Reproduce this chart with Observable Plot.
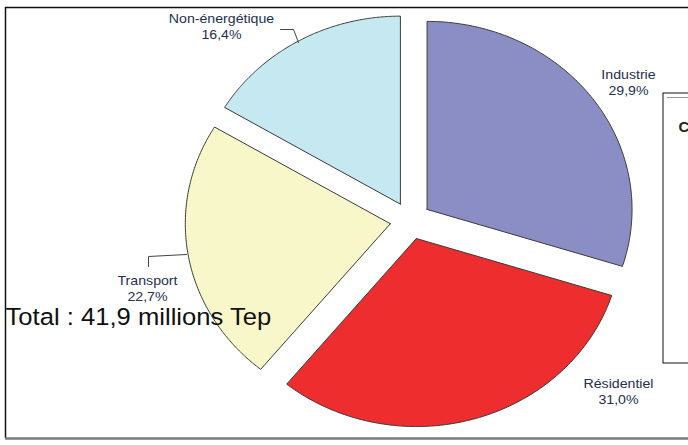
<!DOCTYPE html>
<html><head><meta charset="utf-8">
<script src="https://cdn.jsdelivr.net/npm/d3@7"></script>
<script src="https://cdn.jsdelivr.net/npm/@observablehq/plot@0.6"></script>
<style>body{margin:0;background:#fff} svg{display:block}</style>
</head><body><div id="chart"></div>
<script>
// ---- data ----
const categories = ["Industrie", "Résidentiel", "Transport", "Non-énergétique"];
const shares = [29.9, 31.0, 22.7, 16.4];
const shareLabels = ["29,9%", "31,0%", "22,7%", "16,4%"];
const colors = ["#8b8ec5", "#ee2e2e", "#f8f7ca", "#c5e8f1"];
const totalText = "Total : 41,9 millions Tep";
const boxLetter = "C";

// ---- layout ----
const W = 688, H = 445, CX = 410, CY = 220, RX = 205, RY = 188, STRETCH = 1.09;
const px = p => (p - CX) / RX, py = p => (CY - p) / RY;
const explode = 0.1;
const total = d3.sum(shares);
let acc = 0;
const slices = categories.map((c, i) => {
  const a0 = acc / total * 2 * Math.PI; acc += shares[i];
  const a1 = acc / total * 2 * Math.PI;
  return {c, a0, a1, i};
});
const pts = [];
for (const s of slices) {
  const m = (s.a0 + s.a1) / 2, ox = explode * Math.sin(m), oy = explode * Math.cos(m);
  pts.push({c: s.c, x: ox, y: oy});
  const n = 160;
  for (let k = 0; k <= n; k++) {
    const a = s.a0 + (s.a1 - s.a0) * k / n;
    pts.push({c: s.c, x: ox + Math.sin(a), y: oy + Math.cos(a)});
  }
  pts.push({c: s.c, x: ox, y: oy});
}
// label centers (pixels)
const labelPos = {"Industrie": [628, 81], "Résidentiel": [618, 390], "Transport": [147, 287], "Non-énergétique": [221, 25]};
const labels = categories.map((c, i) => ({c, t: c + "\n" + shareLabels[i], x: px(labelPos[c][0]), y: py(labelPos[c][1])}));
const leaders = [
  ...[[280, 29], [293, 29], [298, 42]].map(p => ({g: "n", x: px(p[0]), y: py(p[1])})),
  ...[[148, 266], [148, 256], [186, 254]].map(p => ({g: "t", x: px(p[0]), y: py(p[1])}))
];

const svg = Plot.plot({
  width: W, height: H, margin: 0,
  x: {domain: [px(0), px(W)], range: [0, W], axis: null},
  y: {domain: [py(H), py(0)], range: [H, 0], axis: null},
  color: {domain: categories, range: colors},
  style: {background: "#fff", fontFamily: "'Liberation Sans', Arial, sans-serif"},
  marks: [
    // frame lines
    Plot.ruleY([py(7)], {x1: px(5), x2: px(W), stroke: "#111", strokeWidth: 1.5}),
    Plot.ruleX([px(5)], {y1: py(7), y2: py(438), stroke: "#111", strokeWidth: 1.5}),
    Plot.ruleY([py(438)], {x1: px(5), x2: px(W), stroke: "#7a7a7a", strokeWidth: 2.5}),
    // partial box on right
    Plot.rect([0], {x1: px(663), x2: px(W + 5), y1: py(93), y2: py(363), fill: "#fff", stroke: "#111", strokeWidth: 1}),
    Plot.ruleY([py(97)], {x1: px(667), x2: px(W), stroke: "#999", strokeWidth: 1}),
    Plot.text([boxLetter], {x: px(678), y: py(127), text: d => d, textAnchor: "start", fontSize: 15, fontWeight: "bold", fill: "#222"}),
    // slices
    Plot.line(pts, {x: "x", y: "y", z: "c", fill: "c", stroke: "#3a3a3a", strokeWidth: 1, curve: "linear"}),
    // leaders
    Plot.line(leaders, {x: "x", y: "y", z: "g", stroke: "#444", strokeWidth: 1}),
    // labels
    Plot.text(labels, {x: "x", y: "y", text: "t", fontSize: 13, lineHeight: 1.25, fill: "#23304f", className: "lbl"}),
    Plot.text([totalText], {x: px(5), y: py(317), text: d => d, textAnchor: "start", fontSize: 23.5, fill: "#111", className: "lbl"})
  ]
});
d3.select(svg).selectAll(".lbl text").each(function() {
  const t = this.getAttribute("transform") || "";
  this.setAttribute("transform", t + ` scale(${STRETCH},1)`);
});
document.getElementById("chart").append(svg);
</script>
</body></html>
